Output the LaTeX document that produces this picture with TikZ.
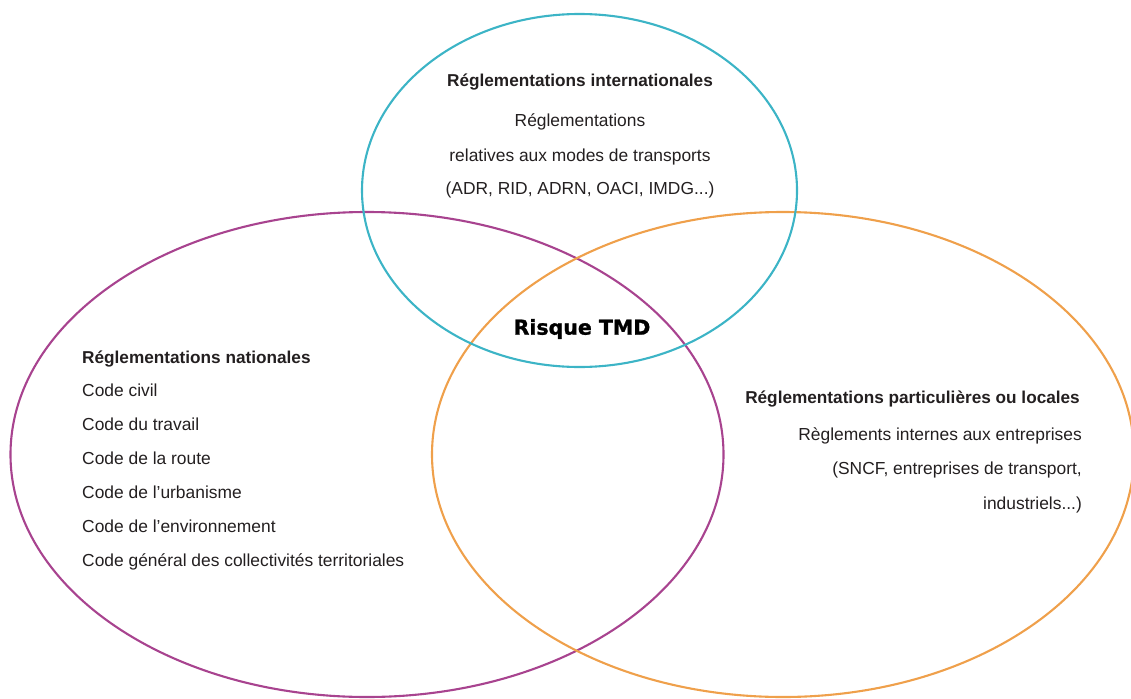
\documentclass[tikz,border=0pt]{standalone}
\usepackage{fontspec}
\setmainfont{Liberation Sans}
\newfontfamily\heavyfont[FakeBold=1.2]{DejaVu Sans Bold}
\definecolor{ringcyan}{HTML}{3CB4C6}
\definecolor{ringpurple}{HTML}{A8438F}
\definecolor{ringorange}{HTML}{EFA04B}
\definecolor{inkgray}{HTML}{231F20}

\begin{document}
\begin{tikzpicture}[x=1pt,y=-1pt,
    ring/.style={line width=2.1pt},
    txt/.style={inner sep=0pt, anchor=mid, text=inkgray, font=\fontsize{17.4}{20}\selectfont},
    head/.style={txt, font=\fontsize{17.2}{20}\selectfont\bfseries}]
  \useasboundingbox (0,0) rectangle (1131,698);
  \clip (0,0) rectangle (1131,698);
  % the three rings
  \draw[ring, ringpurple] (367,454.5) ellipse [x radius=356.5pt, y radius=242.5pt];
  \draw[ring, ringorange] (783,454.5) ellipse [x radius=351pt, y radius=242.5pt];
  \draw[ring, ringcyan] (579.5,190.5) ellipse [x radius=217.5pt, y radius=176.5pt];
  % top ring
  \node[head] (inthead) at (580,84) {Réglementations internationales};
  \node[txt] (int1) at (580,124) {Réglementations};
  \node[txt] (int2) at (580,159) {relatives aux modes de transports};
  \node[txt] (int3) at (580,192) {(ADR, RID, ADRN, OACI, IMDG...)};
  % centre
  \node[txt, font=\heavyfont\fontsize{20.5}{24}\selectfont, text=black] (risk) at (582,332) {Risque TMD};
  % left ring
  \node[head, anchor=mid west] (nathead) at (82,361) {Réglementations nationales};
  \foreach \t [count=\i] in {Code civil, Code du travail, Code de la route,
      Code de l’urbanisme, Code de l’environnement,
      Code général des collectivités territoriales}
    \node[txt, anchor=mid west] (nat\i) at (82,360+\i*34) {\t};
  % right ring
  \node[head, anchor=mid east] (lochead) at (1080,401) {Réglementations particulières ou locales};
  \node[txt, anchor=mid east] (loc1) at (1082,438) {Règlements internes aux entreprises};
  \node[txt, anchor=mid east] (loc2) at (1082,472) {(SNCF, entreprises de transport,};
  \node[txt, anchor=mid east] (loc3) at (1082,507) {industriels...)};
\end{tikzpicture}
\end{document}
